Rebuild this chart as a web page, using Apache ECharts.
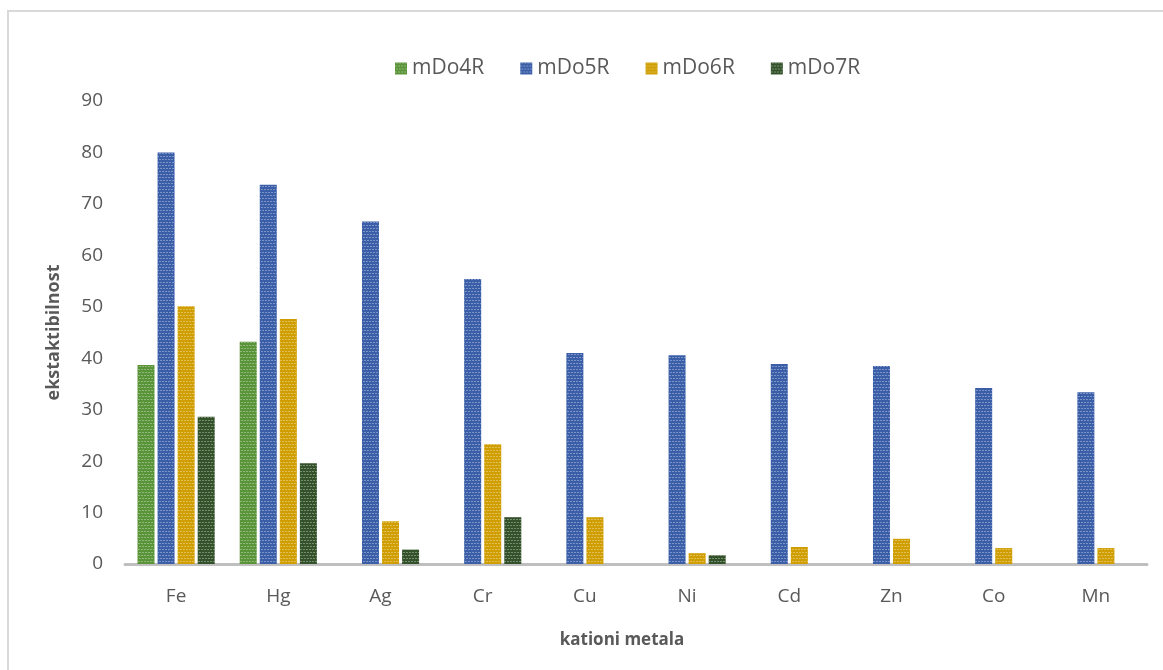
<!DOCTYPE html>
<html>
<head>
<meta charset="utf-8">
<script src="https://cdn.jsdelivr.net/npm/echarts@6/dist/echarts.min.js"></script>
<style>html,body{margin:0;padding:0;background:#fff}#c{width:1163px;height:670px}</style>
</head>
<body>
<div id="c"></div>
<script>
const categories = ['Fe','Hg','Ag','Cr','Cu','Ni','Cd','Zn','Co','Mn'];
const mDo4R = [38.7, 43.2, null, null, null, null, null, null, null, null];
const mDo5R = [80.0, 73.7, 66.6, 55.4, 41.0, 40.6, 38.9, 38.5, 34.2, 33.4];
const mDo6R = [50.1, 47.6, 8.3, 23.3, 9.1, 2.1, 3.3, 4.9, 3.1, 3.1];
const mDo7R = [28.6, 19.6, 2.8, 9.1, null, 1.7, null, null, null, null];
const seriesNames = ['mDo4R','mDo5R','mDo6R','mDo7R'];
const seriesData = [mDo4R, mDo5R, mDo6R, mDo7R];
const colors = ['#5A9438','#3A5FA8','#D09E00','#34522A'];

const font = '"Open Sans", "Liberation Sans", sans-serif';
const chart = echarts.init(document.getElementById('c'), null, {renderer:'canvas'});
const decal = {symbol:'rect', symbolSize:1, color:'rgba(255,255,255,0.33)', dashArrayX:[[2,1],[0,1,2,0]], dashArrayY:[1,2], rotation:0};
chart.setOption({
  animation:false,
  textStyle:{fontFamily:font},
  graphic:[{type:'rect', shape:{x:8,y:11,width:1170,height:680}, style:{fill:'none', stroke:'#D9D9D9', lineWidth:2}, silent:true}],
  legend:{
    top:53, left:390, itemWidth:12, itemHeight:12, itemGap:36,
    icon:'rect',
    textStyle:{fontSize:21, color:'#595959', fontFamily:font},
    data:seriesNames
  },
  grid:{left:125, right:16, top:101, bottom:106, containLabel:false},
  xAxis:{
    type:'category', data:categories,
    axisLine:{lineStyle:{color:'#BFBFBF', width:3}},
    axisTick:{show:false},
    axisLabel:{fontSize:19, color:'#595959', margin:23, fontFamily:font},
    name:'kationi metala', nameLocation:'middle', nameGap:68,
    nameTextStyle:{fontSize:17, fontWeight:'bold', color:'#595959', fontFamily:font, padding:[0,28,0,0]}
  },
  yAxis:{
    type:'value', min:0, max:90, interval:10,
    axisLine:{show:false}, axisTick:{show:false}, splitLine:{show:false},
    axisLabel:{fontSize:19, color:'#595959', margin:22, fontFamily:font},
    name:'ekstaktibilnost', nameLocation:'middle', nameGap:62,
    nameTextStyle:{fontSize:18, fontWeight:'bold', color:'#595959', fontFamily:font}
  },
  series: seriesNames.map((n,i)=>({
    name:n, type:'bar', data:seriesData[i],
    barWidth:17, barGap:'18%',
    itemStyle:{color:colors[i], decal:decal}
  }))
});
</script>
</body>
</html>
